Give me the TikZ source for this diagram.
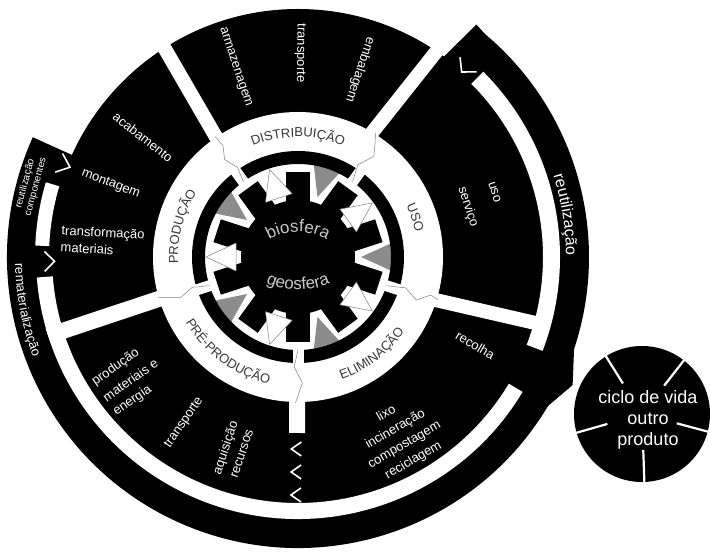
\documentclass[tikz,border=0pt]{standalone}
\usepackage{fontspec}
\setmainfont{Liberation Sans}
\usetikzlibrary{decorations.text}
\newcommand{\ringfont}{\fontsize{13}{15}\selectfont}
\newcommand{\spherefont}{\fontsize{17}{19}\selectfont}
\newcommand{\loopfont}{\fontsize{16}{18}\selectfont}
\newcommand{\bandfont}{\fontsize{13}{15}\selectfont}

\begin{document}
\begin{tikzpicture}[x=1pt,y=1pt,
  sectortext/.style={text=white,inner sep=0pt,font=\fontsize{13}{17}\selectfont},
  gapline/.style={draw=white,line width=14pt},
  chevron/.style={draw=white,line width=1.6pt,line join=miter},
  boundary/.style={draw=gray,line width=0.5pt,line join=round},
  outtri/.style={fill=white,draw=gray,line width=0.5pt,line join=round},
  intri/.style={fill=triGray}]
\definecolor{triGray}{RGB}{140,140,140}
\definecolor{ringGray}{RGB}{55,55,55}
\definecolor{sphereGray}{RGB}{200,200,200}
\path[use as bounding box,fill=white] (0,0) rectangle (710,552);

\begin{scope}[shift={(298,295)}]
\path[fill=black] (0,0) circle (248);
\path[fill=black] (155.7:246) -- (155.7:291) arc[start angle=155.7,end angle=410,radius=291] --
	(52.5:293) -- (54:246) arc[start angle=54,end angle=-204.3,radius=246] -- cycle;
\path[fill=black] (-17:289) -- (-25:303) -- (-32:289) -- cycle;

\path[gapline] (124.5:140) -- (122.5:256);
\path[gapline] (59.5:140) -- (55.8:262);
\path[gapline] (-17.5:140) -- (-15.5:250);
\path[gapline,line width=16pt] (196.7:140) -- (197.5:262);
\path[gapline,line width=16pt] (-90.3:140) -- (-90.3:176);

\path[fill=white] (45:245) arc[start angle=45,end angle=-21,radius=245] --
	(-21:262) arc[start angle=-21,end angle=45,radius=262] -- cycle;
\path[fill=white] (163.5:249) arc[start angle=163.5,end angle=177.5,radius=249] --
	(177.5:263) arc[start angle=177.5,end angle=163.5,radius=263] -- cycle;
\path[fill=white] (184.5:246) arc[start angle=184.5,end angle=329,radius=246] --
	(329:262) arc[start angle=329,end angle=184.5,radius=262] -- cycle;

\path[chevron,shift={(48.5:252)},rotate=48.5] (5,11) -- (-5,0) -- (5,-11);
\path[chevron,shift={(158.5:251)},rotate=158.5] (6,10) -- (-6,0) -- (6,-10);
\path[chevron,shift={(181:248.5)},rotate=181] (5,10) -- (-5,0) -- (5,-10);
\foreach \r in {192,215,238}
  \path[chevron,shift={(-90.5:\r)}] (5,7) -- (-5,0) -- (5,-7);

\path[fill=white] (0,0) circle (145);

\path[fill=black] (0,0) circle (57);
\foreach \a in {18,54,...,342}
  \path[fill=black,rotate=\a] (40,-12) rectangle (85,12);
\foreach \a in {36,108,180,252,324}
  \path[outtri,rotate=\a] (62,-14) -- (92,0) -- (62,14) -- cycle;
\foreach \a in {0,72,144,216,288}
  \path[intri,rotate=\a] (96,-15) -- (63,0) -- (96,15) -- cycle;

\path[fill=black,even odd rule] (0,0) circle (106) (0,0) circle (93);
\foreach \a in {126,54,-18,-90,198}
  \path[draw=white,line width=11pt,rotate=\a] (91,0) -- (108,0);

\path[boundary] (126:93) -- (124:108) -- (127:122) -- (124:134) -- (124.5:146);
\path[boundary] (54:93) -- (57:110) -- (53:126) -- (56:138) -- (58:146);
\path[boundary] (-18:93) -- (-16:112) -- (-20:126) -- (-16:138) -- (-17:146);
\path[boundary] (-90:93) -- (-92:110) -- (-88:126) -- (-91:146);
\path[boundary] (198:93) -- (196:110) -- (199:124) -- (196:146);

\path[decorate,decoration={text along path,text align=center,text color=ringGray,
	text={|\ringfont|DISTRIBUIÇÃO}}] (150:120) arc[start angle=150,end angle=30,radius=120];
\path[decorate,decoration={text along path,text align=center,text color=ringGray,
	text={|\ringfont|USO}}] (48.7:120) arc[start angle=48.7,end angle=-11.3,radius=120];
\path[decorate,decoration={text along path,text align=center,text color=ringGray,
	text={|\ringfont|PRODUÇÃO}}] (195.4:120) arc[start angle=195.4,end angle=135.4,radius=120];
\path[decorate,decoration={text along path,text align=center,text color=ringGray,
	text={|\ringfont|ELIMINAÇÃO}}] (-82.7:130) arc[start angle=-82.7,end angle=-22.7,radius=130];
\path[decorate,decoration={text along path,text align=center,text color=ringGray,
	text={|\ringfont|PRÉ-PRODUÇÃO}}] (-161.4:130) arc[start angle=-161.4,end angle=-91.4,radius=130];

\path[decorate,decoration={text along path,text align=center,text color=sphereGray,
	text={|\spherefont|biosfera}}] (0,-32) ++(128:57) arc[start angle=128,end angle=52,radius=57];
\path[decorate,decoration={text along path,text align=center,text color=sphereGray,
	text={|\spherefont|geosfera}}] (0,47) ++(-115:80) arc[start angle=-115,end angle=-65,radius=80];

\path[decorate,decoration={text along path,text align=center,text color=white,
	text={|\loopfont|reutilização}}] (40:268) arc[start angle=40,end angle=-22,radius=268];
\path[decorate,decoration={text along path,text align=center,text color=white,
	text={|\bandfont|rematerialização}}] (171:283) arc[start angle=171,end angle=211,radius=283];

\node[sectortext,rotate=-71.7] (armazenagem) at (108.3:200) {armazenagem};
\node[sectortext,rotate=-90.6] (transporteD) at (89.4:204) {transporte};
\node[sectortext,rotate=-108.3] (embalagem) at (71.7:197) {embalagem};
\node[sectortext,rotate=-37.7] (acabamento) at (142.3:196) {acabamento};
\node[sectortext,rotate=-21.3] (montagem) at (158.7:201) {montagem};
\node[sectortext,rotate=-3,align=left] (transformacao) at (175.3:196) {transformação\\materiais};
\node[sectortext,rotate=75,align=center,font=\fontsize{10}{11}\selectfont] (componentes) at (165:277)
	{reutilização\\componentes};
\node[sectortext,rotate=35,align=left] (producaoME) at (216.2:208) {produção\\[3pt]materiais e\\energia};
\node[sectortext,rotate=55.5] (transporteP) at (235.5:201) {transporte};
\node[sectortext,rotate=71.4,align=center] (aquisicao) at (251.4:204) {aquisição\\recursos};
\node[sectortext,rotate=-30] (recolha) at (-26.4:198) {recolha};
\node[sectortext,rotate=30,align=center,font=\fontsize{13}{18}\selectfont] (destino) at (-60.5:207)
	{lixo\\incineração\\compostagem\\reciclagem};
\node[sectortext,rotate=-72] (uso) at (18.3:207) {uso};
\node[sectortext,rotate=-72] (servico) at (16.4:177) {serviço};
\end{scope}

\begin{scope}[shift={(642,138)}]
\path[fill=black] (0,0) circle (68);
\foreach \a in {122,52,-15,-88,196}
  \path[draw=white,line width=2.2pt] (\a:36) -- (\a:69);
\node[text=white,align=center,inner sep=0pt,font=\fontsize{18}{21}\selectfont] (outroCiclo) at (6,-6)
	{ciclo de vida\\outro\\produto};
\end{scope}
\end{tikzpicture}
\end{document}
